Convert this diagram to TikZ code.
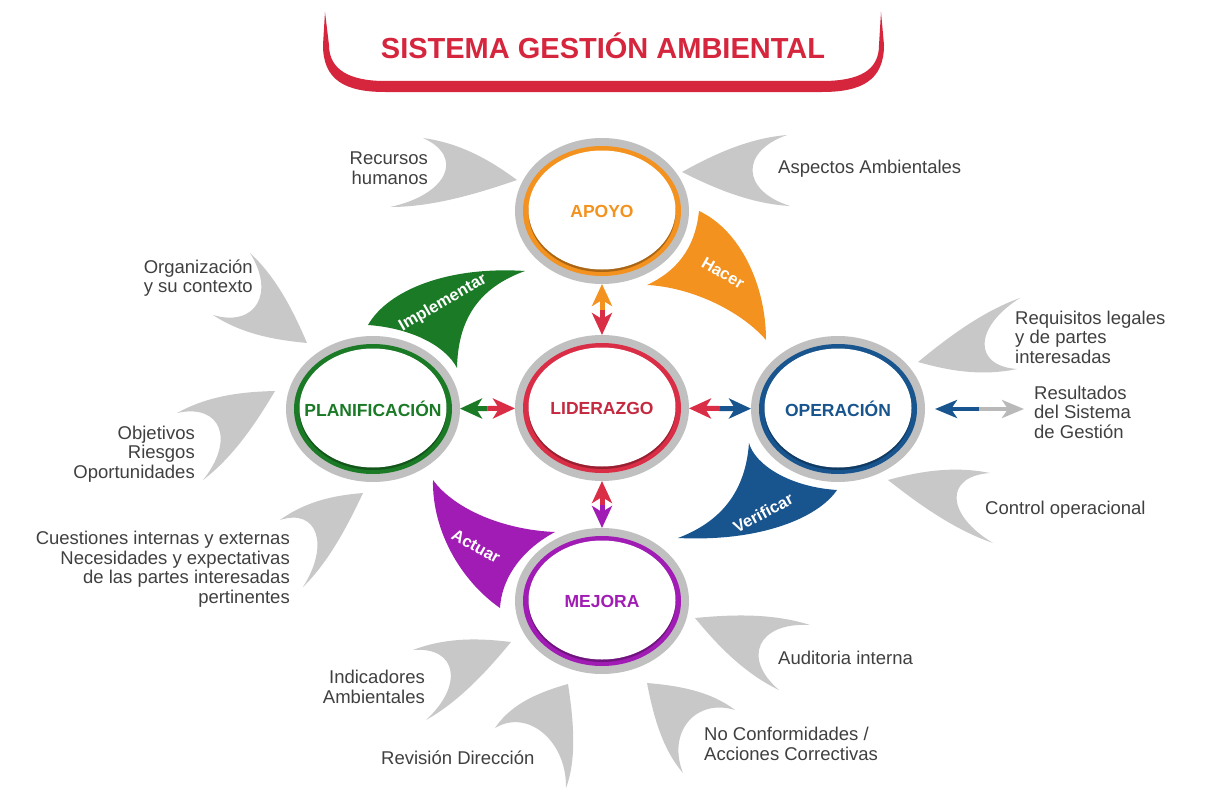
\documentclass[tikz,border=0pt]{standalone}
\usepackage{fontspec}
\setmainfont{Liberation Sans}
\usetikzlibrary{calc,arrows.meta,shapes.geometric}
\definecolor{cOrange}{RGB}{243,146,30}
\definecolor{cRed}{RGB}{218,45,70}
\definecolor{cGreen}{RGB}{27,122,38}
\definecolor{cBlue}{RGB}{24,84,142}
\definecolor{cPurple}{RGB}{160,28,180}
\definecolor{ringgrey}{RGB}{192,192,192}
\definecolor{swooshfill}{RGB}{200,200,200}
\definecolor{arrowgrey}{RGB}{185,185,185}
\definecolor{cText}{RGB}{64,64,64}
\definecolor{cTitle}{RGB}{214,38,62}
\tikzset{
  ringshape/.style={ellipse, minimum width=174pt, minimum height=146pt, inner sep=0pt, outer sep=0pt},
  ringtext/.style={inner sep=0pt, font=\bfseries\fontsize{17.5}{20}\selectfont},
  sidetext/.style={inner sep=0pt, text=cText, font=\fontsize{18.5}{19.5}\selectfont},
  leaftext/.style={inner sep=0pt, text=white, font=\bfseries\fontsize{16.5}{20}\selectfont},
  titletext/.style={inner sep=0pt, text=cTitle, font=\bfseries\fontsize{29}{32}\selectfont},
  dblarrow/.style={line width=5pt, -{Stealth[length=22pt, width=20pt, inset=6pt]}},
  resarrow/.style={line width=4.5pt, -{Stealth[length=22pt, width=18pt, inset=6pt]}},
}
\newcommand\swoosh[3]{%
  \fill[swooshfill] #1 .. controls ($#1!0.33!#3!-0.15!#2$) and ($#1!0.67!#3!-0.08!#2$) .. #3
    .. controls ($#3!0.33!#2!-0.08!#1$) and ($#3!0.67!#2!-0.15!#1$) .. #2
    .. controls ($#2!0.45!#3$) and ($#1!0.45!#3$) .. #1 -- cycle;}
\newcommand\ring[5]{%
  \fill[ringgrey] #2 ellipse [x radius=87, y radius=73];
  \fill[#3] #2 ellipse [x radius=79, y radius=65];
  \fill[#3!70!black] ($#2+(0,1.5)$) ellipse [x radius=73.5, y radius=59.5];
  \fill[white] ($#2+(0,-1)$) ellipse [x radius=73.5, y radius=59.5];
  \node[ringshape] (#1) at #2 {};
  \node[ringtext, text=#5] (#1T) at #2 {#4};}
\newcommand\linkarrow[4]{%
  \path (#1) -- (#2) coordinate[pos=0.5] (#1#2m);
  \draw[dblarrow, #3] (#1#2m) -- (#1);
  \draw[dblarrow, #4] (#1#2m) -- (#2);}
\begin{document}
\begin{tikzpicture}[x=1pt, y=-1pt]
\useasboundingbox[fill=white] (0,0) rectangle (1205,808);
% title bracket
\fill[cTitle] (325,12) -- (323,45) .. controls (323,80) and (345,92) .. (385,92) -- (822,92)
  .. controls (862,92) and (884,80) .. (884,45) -- (881,12) -- (879,45)
  .. controls (879,70) and (860,81) .. (822,81) -- (385,81)
  .. controls (350,81) and (329,70) .. (329,45) -- cycle;
\node[titletext] (title) at (603,46) {SISTEMA GESTIÓN AMBIENTAL};
% grey swooshes
\swoosh{(423,138)}{(390,207)}{(517,180)}
\swoosh{(787,135)}{(790,206)}{(682,172)}
\swoosh{(250,253)}{(213,315)}{(307,343)}
\swoosh{(177,413)}{(203,480)}{(275,391)}
\swoosh{(280,520)}{(303,587)}{(363,493)}
\swoosh{(1020,298)}{(1017,369)}{(918,362)}
\swoosh{(990,473)}{(993,543)}{(888,480)}
\swoosh{(810,625)}{(779,690)}{(695,618)}
\swoosh{(735,710)}{(683,773)}{(647,683)}
\swoosh{(495,728)}{(566,788)}{(568,684)}
\swoosh{(413,650)}{(426,720)}{(511,642)}
% coloured leaves
\fill[cGreen] (368,325) .. controls (388,290) and (448,266) .. (525,271)
  .. controls (478,288) and (458,320) .. (457,368)
  .. controls (445,345) and (410,328) .. (368,325) -- cycle;
\fill[cOrange] (699,211) .. controls (740,230) and (766,285) .. (766,340)
  .. controls (740,310) and (690,287) .. (647,285)
  .. controls (675,272) and (695,250) .. (699,211) -- cycle;
\fill[cBlue] (749,443) .. controls (755,465) and (790,487) .. (837,490)
  .. controls (818,518) and (760,542) .. (678,538)
  .. controls (712,525) and (745,500) .. (749,443) -- cycle;
\fill[cPurple] (433,480) .. controls (455,510) and (505,530) .. (555,532)
  .. controls (525,548) and (502,575) .. (500,608)
  .. controls (460,580) and (432,530) .. (433,480) -- cycle;
\node[leaftext, rotate=30] (implementar) at (443,303) {Implementar};
\node[leaftext, rotate=-30] (hacer) at (723,273) {Hacer};
\node[leaftext, rotate=28] (verificar) at (763,513) {Verificar};
\node[leaftext, rotate=-29] (actuar) at (476,546) {Actuar};
% rings
\ring{apoyo}{(602,211)}{cOrange}{APOYO}{cOrange}
\ring{lid}{(602,408)}{cRed}{LIDERAZGO}{cRed!90!black}
\ring{plan}{(373,409)}{cGreen}{PLANIFICACIÓN}{cGreen}
\ring{oper}{(838,409)}{cBlue}{OPERACIÓN}{cBlue}
\ring{mej}{(602,601)}{cPurple}{MEJORA}{cPurple}
% arrows
\linkarrow{lid}{apoyo}{cRed}{cOrange}
\linkarrow{lid}{mej}{cRed}{cPurple}
\linkarrow{lid}{plan}{cRed}{cGreen}
\linkarrow{lid}{oper}{cRed}{cBlue}
\coordinate (resEnd) at (1024,409);
\path (oper) -- (resEnd) coordinate[pos=0.55] (resM);
\draw[resarrow, cBlue, shorten >=10pt] (resM) -- (oper);
\draw[resarrow, arrowgrey] (resM) -- (resEnd);
% side texts
\node[sidetext, anchor=east, align=right] (t1) at (428,168) {Recursos\\humanos};
\node[sidetext, anchor=west] (t2) at (778,169) {Aspectos Ambientales};
\node[sidetext, anchor=east, align=right] (t3) at (253,278) {Organización\\y su contexto};
\node[sidetext, anchor=east, align=right] (t4) at (195,454) {Objetivos\\Riesgos\\Oportunidades};
\node[sidetext, anchor=east, align=right] (t5) at (290,569) {Cuestiones internas y externas\\Necesidades y expectativas\\de las partes interesadas\\pertinentes};
\node[sidetext, anchor=west, align=left] (t6) at (1015,337) {Requisitos legales\\y de partes\\interesadas};
\node[sidetext, anchor=west, align=left] (t7) at (1034,412) {Resultados\\del Sistema\\de Gestión};
\node[sidetext, anchor=west] (t8) at (985,510) {Control operacional};
\node[sidetext, anchor=west] (t9) at (778,658) {Auditoria interna};
\node[sidetext, anchor=west, align=left] (t10) at (704,744) {No Conformidades /\\Acciones Correctivas};
\node[sidetext, anchor=west] (t11) at (381,758) {Revisión Dirección};
\node[sidetext, anchor=east, align=right] (t12) at (425,687) {Indicadores\\Ambientales};
\end{tikzpicture}
\end{document}
